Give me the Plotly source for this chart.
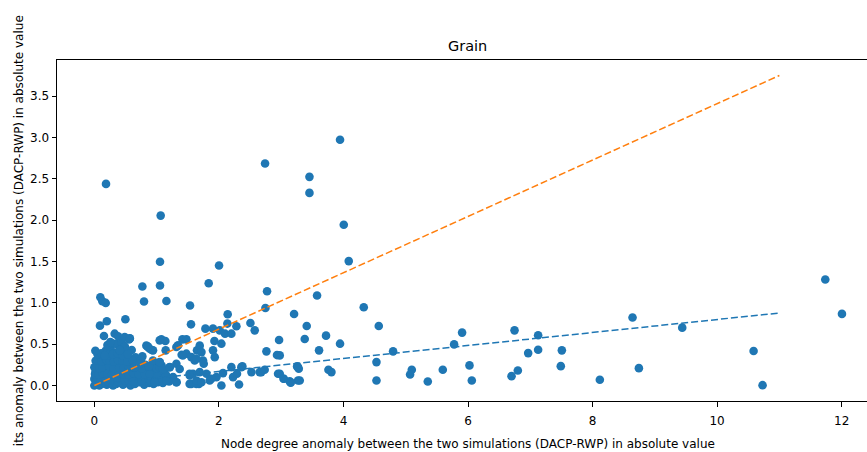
import plotly.graph_objects as go

# Per-node anomalies (absolute value) between DACP and RWP simulations, grain network
degree_anom = [
    # dense core near the origin
    0.00, 0.02, 0.05, 0.08, 0.12, 0.16, 0.20, 0.25, 0.30, 0.35, 0.40, 0.46, 0.52, 0.58, 0.65, 0.72, 0.80, 0.88, 0.95, 1.02, 1.10, 1.20,
    0.00, 0.04, 0.09, 0.14, 0.19, 0.24, 0.30, 0.36, 0.42, 0.50, 0.58, 0.66, 0.74, 0.85, 0.95, 1.05,
    0.02, 0.06, 0.10, 0.15, 0.20, 0.26, 0.32, 0.38, 0.45, 0.52, 0.60, 0.68, 0.78, 0.90, 1.00, 1.12,
    0.05, 0.10, 0.16, 0.22, 0.28, 0.35, 0.42, 0.50, 0.58, 0.70, 0.82, 0.95, 1.08,
    0.08, 0.14, 0.20, 0.27, 0.34, 0.40, 0.48, 0.56, 0.66,
    0.18, 0.26, 0.33, 0.42, 0.50, 0.60,
    0.03, 0.10, 0.18, 0.27, 0.37, 0.49, 0.62, 0.76, 0.91, 1.06,
    0.01, 0.07, 0.13, 0.21, 0.28, 0.39, 0.47, 0.55, 0.63, 0.71, 0.81, 1.00, 1.15,
    0.00, 0.08, 0.13, 0.24, 0.31, 0.40, 0.47, 0.55, 0.63, 0.76, 0.88, 1.00,
    0.02, 0.12, 0.19, 0.25, 0.31, 0.38, 0.45, 0.53, 0.62, 0.75,
    0.05, 0.11, 0.23, 0.30, 0.37, 0.45, 0.54,
    0.21, 0.29, 0.36, 0.44,
    0.16, 0.49, 0.57, 0.41, 0.86, 0.92, 0.65, 0.73, 1.05, 1.21, 0.89, 0.97, 1.16, 1.32, 1.53,
    # low-degree nodes with larger weight anomalies
    0.016, 0.096, 0.128, 0.182, 0.797, 1.157, 1.536, 0.498, 0.200, 0.090, 0.154, 0.326, 0.380, 0.556, 0.257,
    1.076, 1.140, 1.414, 1.478, 0.835, 0.888, 0.942, 0.771, 1.145, 1.402, 1.478, 1.558, 1.611, 1.756, 1.317,
    1.370, 0.877, 1.049, 1.102, 1.263, 1.531, 1.584, 1.680, 1.558, 1.638, 1.692, 1.800, 1.852, 1.960, 2.066,
    2.040, 2.200, 2.227, 2.290, 2.323, 2.377, 2.522, 2.655, 2.735, 2.950, 3.040, 3.149, 3.270, 3.270,
    0.187, 1.065, 2.741, 1.054, 2.002, 0.771, 1.054, 1.836, 2.773,
    2.141, 2.136, 2.281, 2.506, 2.575, 2.747, 1.552, 1.783, 1.905, 2.013, 2.098, 2.200, 1.648, 1.692, 1.928,
    1.905, 1.933, 2.966, 2.763, 2.933, 2.040, 1.720, 1.745, 1.640, 1.343, 0.940, 1.420, 1.530, 1.640, 1.720,
    1.880, 2.360, 2.680, 3.137, 0.969, 1.157, 1.317, 0.487, 0.567, 0.165, 0.406, 0.860, 1.049, 1.317, 1.049,
    1.210, 0.647, 0.727,
    # higher-degree nodes
    3.945, 3.454, 3.454, 4.005, 4.085, 3.576, 3.207, 4.326, 3.410, 4.567, 3.378, 3.720, 3.945, 3.608, 2.977,
    4.797, 4.530, 3.255, 3.282, 3.759, 3.807, 2.977, 3.041, 3.153, 3.298, 4.530, 5.097, 5.070, 5.354, 5.595,
    5.777, 5.905, 6.024, 6.061, 6.747, 6.699, 6.800, 6.966, 7.126, 7.126, 7.507, 7.490, 8.117, 8.642, 8.744,
    9.440, 10.586, 10.730, 11.737, 12.005,
]
weight_anom = [
    0.00, 0.01, 0.03, 0.00, 0.02, 0.04, 0.01, 0.03, 0.00, 0.02, 0.04, 0.01, 0.03, 0.00, 0.02, 0.04, 0.01, 0.03, 0.02, 0.04, 0.03, 0.05,
    0.08, 0.10, 0.12, 0.09, 0.11, 0.08, 0.12, 0.10, 0.09, 0.11, 0.08, 0.12, 0.10, 0.09, 0.11, 0.10,
    0.17, 0.20, 0.16, 0.19, 0.18, 0.16, 0.20, 0.17, 0.19, 0.16, 0.18, 0.20, 0.17, 0.19, 0.16, 0.18,
    0.25, 0.27, 0.24, 0.28, 0.26, 0.25, 0.27, 0.24, 0.26, 0.28, 0.25, 0.27, 0.24,
    0.33, 0.35, 0.32, 0.36, 0.34, 0.33, 0.35, 0.32, 0.34,
    0.42, 0.44, 0.40, 0.45, 0.41, 0.43,
    0.05, 0.06, 0.05, 0.06, 0.05, 0.06, 0.05, 0.06, 0.05, 0.06,
    0.14, 0.13, 0.15, 0.14, 0.13, 0.15, 0.14, 0.13, 0.15, 0.14, 0.13, 0.14, 0.13,
    0.22, 0.21, 0.22, 0.23, 0.21, 0.22, 0.21, 0.23, 0.22, 0.21, 0.22, 0.21,
    0.30, 0.29, 0.31, 0.30, 0.29, 0.31, 0.30, 0.29, 0.30, 0.31,
    0.38, 0.39, 0.37, 0.38, 0.39, 0.37, 0.38,
    0.49, 0.51, 0.50, 0.52,
    0.36, 0.47, 0.57, 0.43, 0.47, 0.43, 0.22, 0.26, 0.28, 0.22, 0.14, 0.04, 0.06, 0.04, 0.02,
    0.421, 1.068, 1.019, 0.999, 1.016, 1.023, 0.967, 0.801, 0.777, 0.724, 0.598, 0.627, 0.595, 0.558, 0.525,
    0.558, 0.538, 0.558, 0.558, 0.482, 0.445, 0.425, 0.352, 0.425, 0.372, 0.385, 0.343, 0.303, 0.263, 0.263,
    0.200, 0.234, 0.222, 0.200, 0.101, 0.121, 0.142, 0.020, 0.020, 0.020, 0.162, 0.142, 0.061, 0.101, 0.150,
    0.000, 0.222, 0.101, 0.142, 0.012, 0.231, 0.162, 0.162, 0.190, 0.142, 0.081, 0.040, 0.222, 0.061,
    2.439, 2.055, 2.686, 1.497, 1.452, 1.197, 1.209, 1.237, 1.141,
    0.862, 0.749, 0.716, 0.756, 0.667, 0.938, 0.740, 0.688, 0.688, 0.667, 0.627, 0.627, 0.425, 0.482, 0.538,
    0.425, 0.343, 0.550, 0.413, 0.368, 0.506, 0.404, 0.303, 0.324, 0.485, 0.303, 0.364, 0.142, 0.061, 0.040,
    0.081, 0.222, 0.162, 0.052, 0.040, 0.061, 0.040, 0.587, 0.567, 0.364, 0.425, 0.465, 0.546, 0.465, 0.283,
    0.222, 0.222, 0.263,
    2.973, 2.524, 2.330, 1.945, 1.505, 1.089, 0.865, 0.947, 0.720, 0.720, 0.562, 0.603, 0.506, 0.425, 0.364,
    0.413, 0.283, 0.231, 0.202, 0.190, 0.162, 0.142, 0.081, 0.033, 0.061, 0.061, 0.190, 0.133, 0.049, 0.190,
    0.497, 0.640, 0.243, 0.061, 0.667, 0.113, 0.182, 0.392, 0.607, 0.433, 0.425, 0.234, 0.069, 0.822, 0.210,
    0.700, 0.417, 0.004, 1.283, 0.866,
]

# Fitted trend lines over the degree range
fit_x = [0.0, 11.0]
fit_blue_y = [0.012, 0.877]
fit_orange_y = [0.0, 3.75]

x_ticks = [0, 2, 4, 6, 8, 10, 12]
y_ticks = [0.0, 0.5, 1.0, 1.5, 2.0, 2.5, 3.0, 3.5]

title_text = "Grain"
x_label = "Node degree anomaly between the two simulations (DACP-RWP) in absolute value"
y_label = "its anomaly between the two simulations (DACP-RWP) in absolute value"

BLUE = "#1f77b4"
ORANGE = "#ff7f0e"
FONT = "DejaVu Sans"

fig = go.Figure()
fig.add_trace(go.Scatter(
    x=degree_anom, y=weight_anom, mode="markers",
    marker=dict(color=BLUE, size=8.6, line=dict(width=0)),
    showlegend=False, hoverinfo="x+y",
))
fig.add_trace(go.Scatter(
    x=fit_x, y=fit_blue_y, mode="lines",
    line=dict(color=BLUE, width=1.5, dash="7px,3px"),
    showlegend=False,
))
fig.add_trace(go.Scatter(
    x=fit_x, y=fit_orange_y, mode="lines",
    line=dict(color=ORANGE, width=1.5, dash="7px,3px"),
    showlegend=False,
))

axis_common = dict(
    showgrid=False, zeroline=False, showline=True, linecolor="black", linewidth=1,
    ticks="outside", ticklen=4.5, tickwidth=1, tickcolor="black",
    tickfont=dict(family=FONT, size=12, color="black"),
)

fig.update_layout(
    width=867, height=452,
    margin=dict(l=57, r=0, t=60, b=51),
    paper_bgcolor="white", plot_bgcolor="white",
    font=dict(family=FONT, size=12, color="black"),
    xaxis=dict(range=[-0.6, 12.407], tickvals=x_ticks,
               ticktext=[str(v) for v in x_ticks], mirror=True,
               ticklabelstandoff=4, **axis_common),
    yaxis=dict(range=[-0.1875, 3.9375], tickvals=y_ticks,
               ticktext=[f"{v:.1f}" for v in y_ticks], **axis_common),
    annotations=[
        dict(text=title_text, xref="paper", yref="paper", x=0.507, y=1.0,
             yshift=4, xanchor="center", yanchor="bottom", showarrow=False,
             font=dict(family=FONT, size=14.5, color="black")),
        dict(text=x_label, xref="paper", yref="paper", x=0.507, y=-0.125,
             xanchor="center", yanchor="middle", showarrow=False,
             font=dict(family=FONT, size=12, color="black")),
        dict(text=y_label, xref="paper", yref="paper", x=-0.0473, y=0.5,
             xanchor="center", yanchor="middle", textangle=-90, showarrow=False,
             font=dict(family=FONT, size=12, color="black")),
    ],
)

fig.write_html("out.html")
